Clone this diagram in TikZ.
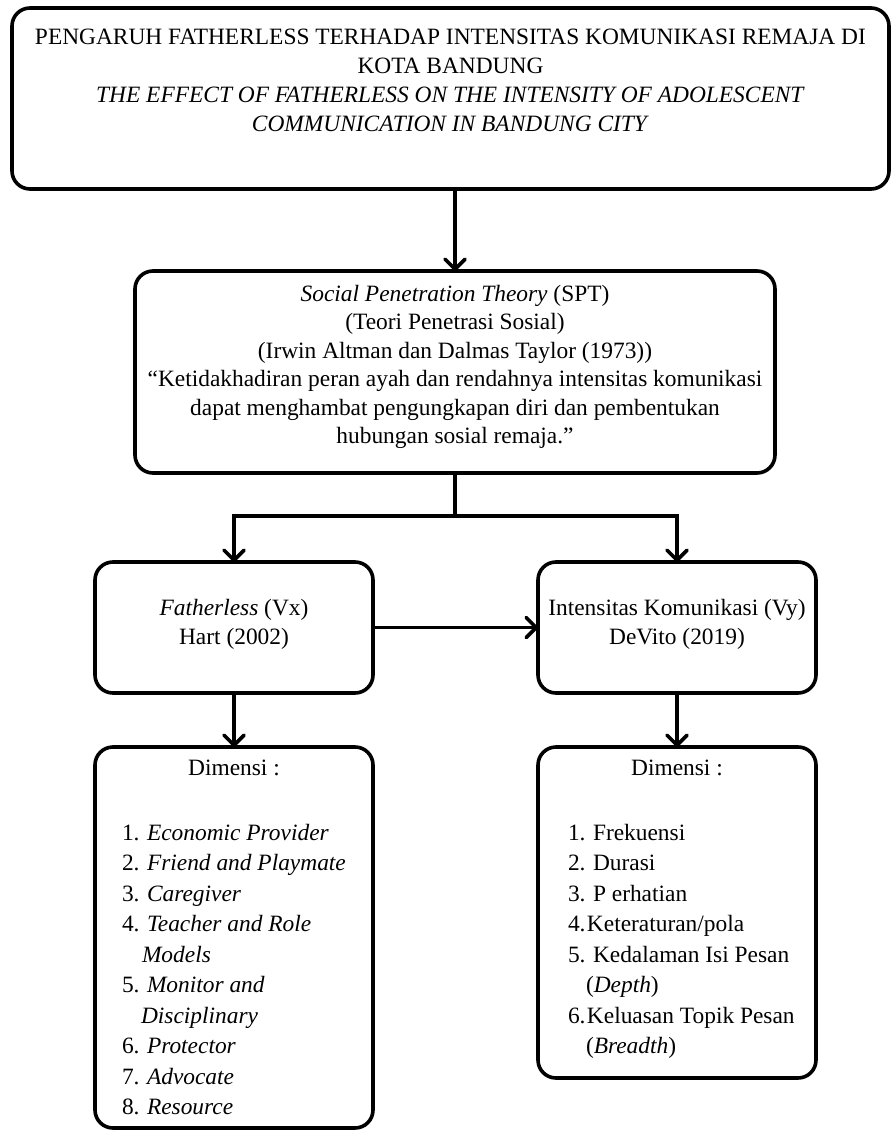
\documentclass[tikz,border=0pt]{standalone}
\usepackage{fontspec}
\setmainfont{Liberation Serif}
\usetikzlibrary{arrows.meta}
\begin{document}
\begin{tikzpicture}[x=1pt,y=-1pt,
  box/.style={draw, line width=3.6pt, rounded corners=18pt, inner sep=0pt, outer sep=0pt},
  conn/.style={line width=3.6pt},
  arr/.style={conn, -{Straight Barb[length=10pt,width=20pt,round]}},
  txt/.style={inner sep=0pt, outer sep=0pt, font=\fontsize{23.4}{29}\selectfont},
  lst/.style={inner sep=0pt, outer sep=0pt, align=left, anchor=north west, font=\fontsize{23.4}{30.5}\selectfont},
]
\fill[white] (0,0) rectangle (891,1131);
\useasboundingbox (0,0) rectangle (891,1131);

% boxes
\node[box, minimum width=877pt, minimum height=181pt] (title) at (450.5,98.5) {};
\node[box, minimum width=640pt, minimum height=202pt] (spt) at (455,372) {};
\node[box, minimum width=278pt, minimum height=131pt] (fx) at (234,627.5) {};
\node[box, minimum width=278pt, minimum height=131pt] (iy) at (677,627.5) {};
\node[box, minimum width=278pt, minimum height=381pt] (dl) at (234,937.5) {};
\node[box, minimum width=278pt, minimum height=331pt] (dr) at (677,912.5) {};

% texts
\node[txt, align=center, anchor=north] (ttitle) at (450.5,29) {PENGARUH FATHERLESS TERHADAP INTENSITAS KOMUNIKASI REMAJA DI\\KOTA BANDUNG\\\textit{THE EFFECT OF FATHERLESS ON THE INTENSITY OF ADOLESCENT}\\\textit{COMMUNICATION IN BANDUNG CITY}};
\node[txt, align=center, anchor=north, font=\fontsize{23.4}{28.5}\selectfont] (tspt) at (455,285) {\textit{Social Penetration Theory} (SPT)\\(Teori Penetrasi Sosial)\\(Irwin Altman dan Dalmas Taylor (1973))\\“Ketidakhadiran peran ayah dan rendahnya intensitas komunikasi\\dapat menghambat pengungkapan diri dan pembentukan\\hubungan sosial remaja.”};
\node[txt, align=center, anchor=north] (tfx) at (234,599) {\textit{Fatherless} (Vx)\\Hart (2002)};
\node[txt, align=center, anchor=north] (tiy) at (677,599) {Intensitas Komunikasi (Vy)\\DeVito (2019)};
\node[txt, anchor=north] (dimL) at (234,760) {Dimensi :};
\node[txt, anchor=north] (dimR) at (677,760) {Dimensi :};
\node[lst] (listL) at (122,824) {\makebox[25pt][l]{1.}\textit{Economic Provider}\\
\makebox[25pt][l]{2.}\textit{Friend and Playmate}\\
\makebox[25pt][l]{3.}\textit{Caregiver}\\
\makebox[25pt][l]{4.}\textit{Teacher and Role}\\
\hspace*{20pt}\textit{Models}\\
\makebox[25pt][l]{5.}\textit{Monitor and}\\
\hspace*{19pt}\textit{Disciplinary}\\
\makebox[25pt][l]{6.}\textit{Protector}\\
\makebox[25pt][l]{7.}\textit{Advocate}\\
\makebox[25pt][l]{8.}\textit{Resource}};
\node[lst] (listR) at (568,824) {\makebox[25pt][l]{1.}Frekuensi\\
\makebox[25pt][l]{2.}Durasi\\
\makebox[25pt][l]{3.}P erhatian\\
\makebox[19pt][l]{4.}Keteraturan/pola\\
\makebox[25pt][l]{5.}Kedalaman Isi Pesan\\
\hspace*{18pt}(\textit{Depth})\\
\makebox[19pt][l]{6.}Keluasan Topik Pesan\\
\hspace*{18pt}(\textit{Breadth})};

% connectors
\coordinate (j) at (455,516);
\draw[arr] (title.south -| spt.north) -- (spt.north);
\draw[conn] (spt.south) -- (j);
\draw[arr] (j) -| (fx.north);
\draw[arr] (j) -| (iy.north);
\draw[arr] (fx.east) -- (iy.west);
\draw[arr] (fx.south) -- (dl.north);
\draw[arr] (iy.south) -- (dr.north);
\end{tikzpicture}
\end{document}
